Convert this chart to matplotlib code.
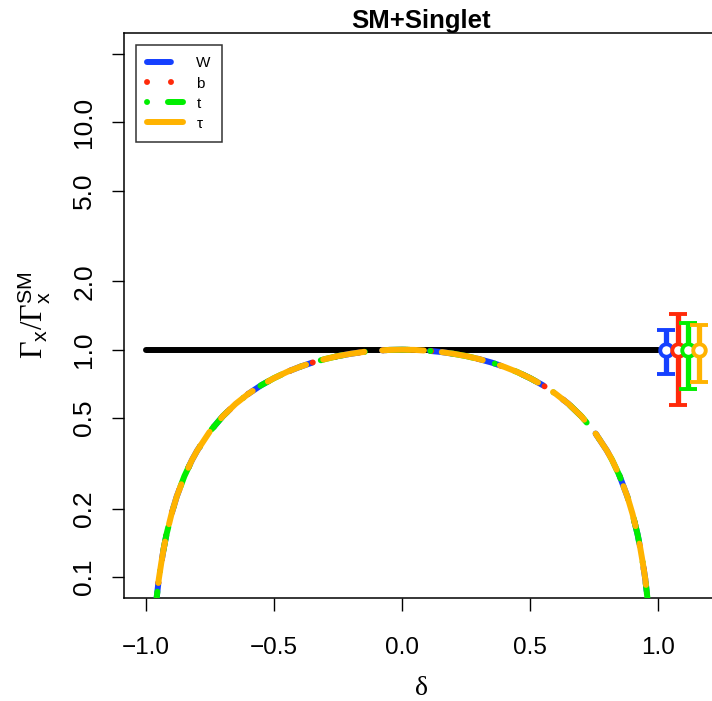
import matplotlib
matplotlib.use("Agg")
import matplotlib.pyplot as plt
from matplotlib.lines import Line2D

# ---- data ----
delta = [-0.995, -0.99, -0.98, -0.97, -0.96, -0.95, -0.94, -0.93, -0.92, -0.90,
         -0.88, -0.85, -0.82, -0.80, -0.75, -0.70, -0.65, -0.60, -0.55, -0.50,
         -0.45, -0.40, -0.35, -0.30, -0.25, -0.20, -0.15, -0.10, -0.05, 0.00,
         0.05, 0.10, 0.15, 0.20, 0.25, 0.30, 0.35, 0.40, 0.45, 0.50,
         0.55, 0.60, 0.65, 0.70, 0.75, 0.80, 0.82, 0.85, 0.88, 0.90,
         0.92, 0.93, 0.94, 0.95, 0.96, 0.97, 0.98, 0.99, 0.995]
gamma_curve = [0.010, 0.020, 0.040, 0.059, 0.078, 0.098, 0.116, 0.135, 0.154, 0.190,
               0.226, 0.278, 0.328, 0.360, 0.438, 0.510, 0.578, 0.640, 0.698, 0.750,
               0.798, 0.840, 0.878, 0.910, 0.938, 0.960, 0.978, 0.990, 0.998, 1.000,
               0.998, 0.990, 0.978, 0.960, 0.938, 0.910, 0.878, 0.840, 0.798, 0.750,
               0.698, 0.640, 0.578, 0.510, 0.438, 0.360, 0.328, 0.278, 0.226, 0.190,
               0.154, 0.135, 0.116, 0.098, 0.078, 0.059, 0.040, 0.020, 0.010]
gamma_w = gamma_curve
gamma_b = gamma_curve
gamma_t = gamma_curve
gamma_tau = gamma_curve

sm_delta = [-1.0, 1.0]
sm_gamma = [1.0, 1.0]

labels = ["W", "b", "t", "τ"]
colors = ["#1540ff", "#ff2a0a", "#00ee00", "#ffb300"]
meas_x = [1.031, 1.078, 1.117, 1.160]
meas_c = [1.0, 1.0, 1.0, 1.0]
meas_lo = [0.78, 0.57, 0.67, 0.72]
meas_hi = [1.22, 1.43, 1.31, 1.28]

yticks = [0.1, 0.2, 0.5, 1.0, 2.0, 5.0, 10.0, 20.0]
yticklabels = ["0.1", "0.2", "0.5", "1.0", "2.0", "5.0", "10.0", ""]
xticks = [-1.0, -0.5, 0.0, 0.5, 1.0]
xticklabels = ["\u22121.0", "\u22120.5", "0.0", "0.5", "1.0"]

# ---- figure ----
W, H = 712, 701
fig = plt.figure(figsize=(W / 100, H / 100), dpi=100)
plt.rcParams["font.family"] = ["Liberation Sans", "DejaVu Sans"]
plt.rcParams["mathtext.fontset"] = "custom"
plt.rcParams["mathtext.rm"] = "Liberation Serif"
plt.rcParams["mathtext.sf"] = "Liberation Sans"
plt.rcParams["mathtext.it"] = "Liberation Serif:italic"

ax = fig.add_axes([124 / W, 1 - 598 / H, (718 - 124) / W, (598 - 33) / H])
ax.set_yscale("log")
ax.set_xlim(-1.0859, 1.234)
ax.set_ylim(10 ** -1.092, 10 ** 1.393)

lw = 4.3
ax.plot(sm_delta, sm_gamma, color="black", lw=lw, solid_capstyle="round", zorder=2)

styles = [(0, (4, 4)), (0, (0.01, 4)), (0, (0.01, 3.5, 4, 3.5)), (0, (7, 3))]
series = [gamma_w, gamma_b, gamma_t, gamma_tau]
handles = []
for g, c, ls, lab in zip(series, colors, styles, labels):
    ax.plot(delta, g, color=c, lw=lw, linestyle=ls,
            dash_capstyle="round", solid_capstyle="round", zorder=3)
    handles.append(Line2D([], [], color=c, lw=lw, linestyle=ls,
                          dash_capstyle="round", solid_capstyle="round"))

for x, c, lo, hi, col in zip(meas_x, meas_c, meas_lo, meas_hi, colors):
    ax.errorbar([x], [c], yerr=[[c - lo], [hi - c]], fmt="o", color=col,
                ecolor=col, elinewidth=3.8, capsize=6.5, capthick=3.8,
                markersize=9, markerfacecolor="white", markeredgecolor=col,
                markeredgewidth=2.8, zorder=4)

ax.set_yticks(yticks)
ax.set_yticklabels(yticklabels, rotation=90, va="center")
ax.yaxis.set_minor_locator(matplotlib.ticker.NullLocator())
ax.set_xticks(xticks)
ax.set_xticklabels(xticklabels)
ax.tick_params(axis="both", direction="out", length=9, width=1.0, colors="black")
ax.tick_params(axis="y", pad=11, labelsize=19)
ax.tick_params(axis="x", pad=19, labelsize=17.5)
for s in ax.spines.values():
    s.set_linewidth(1.1)

ax.set_title("SM+Singlet", fontsize=18.5, fontweight="bold", pad=2)
ax.set_xlabel("δ", family=["Liberation Serif", "DejaVu Serif"], fontsize=20, labelpad=12)
ax.set_ylabel(r"$\mathrm{\Gamma}_{\mathsf{x}}/\mathrm{\Gamma}_{\mathsf{x}}^{\mathsf{SM}}$",
              fontsize=22, labelpad=14)

leg = ax.legend(handles, labels, loc="upper left",
                bbox_to_anchor=(136 / W, 1 - 45 / H), bbox_transform=fig.transFigure,
                fontsize=11, frameon=True, fancybox=False, edgecolor="black",
                handlelength=2.3, handletextpad=0.9, labelspacing=0.4,
                borderpad=0.75, borderaxespad=0)
leg.get_frame().set_linewidth(1.1)

fig.savefig("out.png", dpi=100)
